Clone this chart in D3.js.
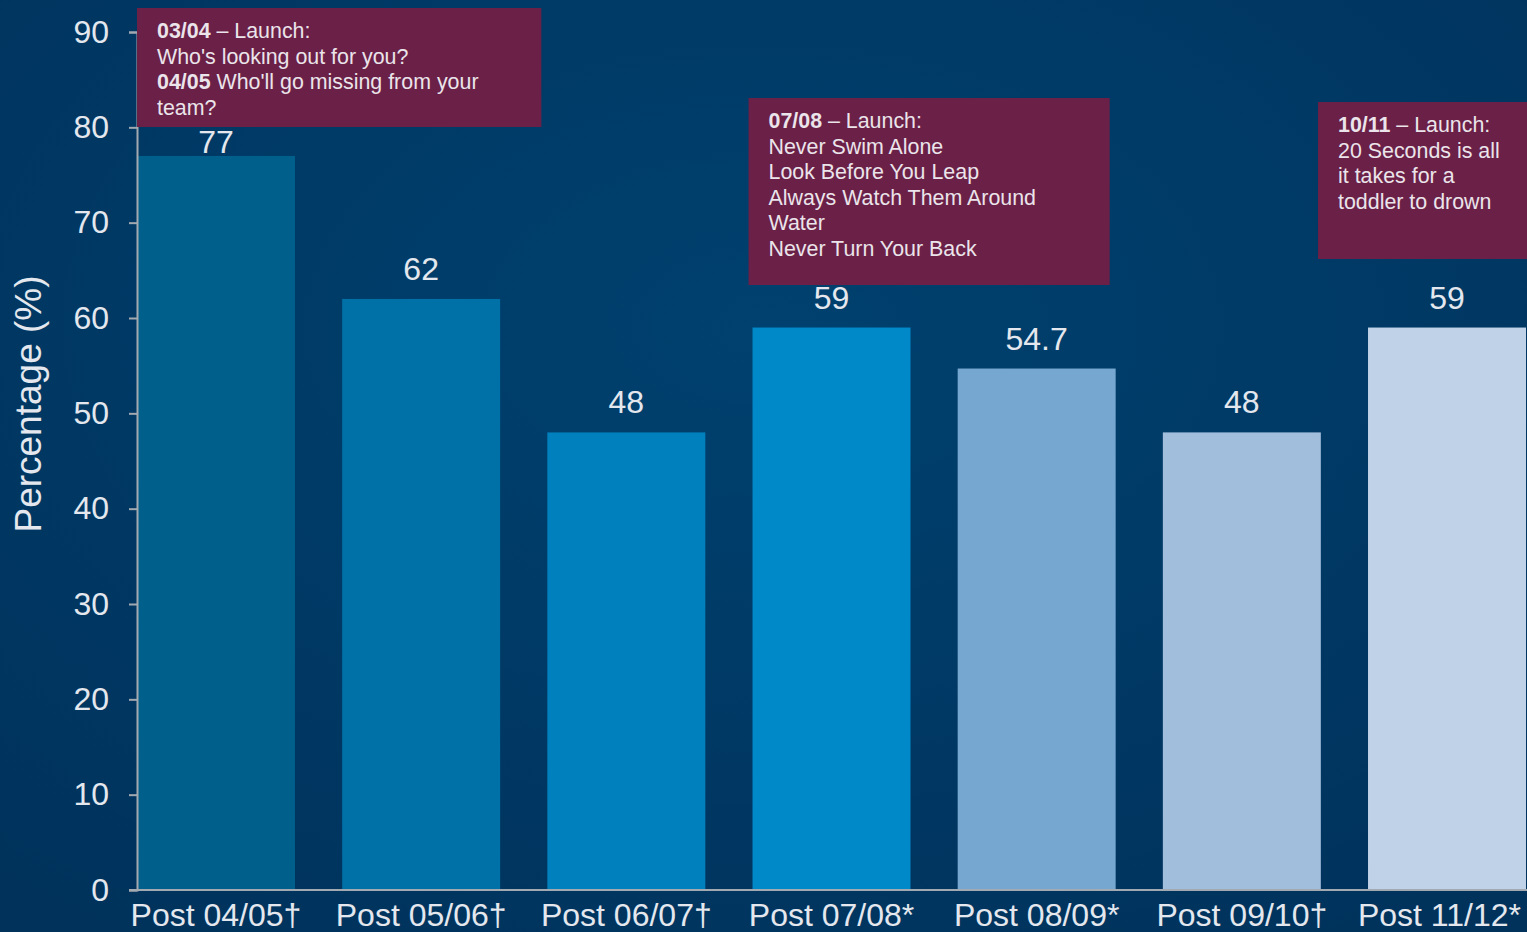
<!DOCTYPE html>
<html>
<head>
<meta charset="utf-8">
<script src="https://cdn.jsdelivr.net/npm/d3@7"></script>
<style>
  html, body { margin: 0; padding: 0; background: #00375f; overflow: hidden; }
  svg { display: block; font-family: 'Liberation Sans', Arial, sans-serif; }
</style>
</head>
<body>
<svg></svg>
<script>
let categories = ['Post 04/05\u2020', 'Post 05/06\u2020', 'Post 06/07\u2020', 'Post 07/08*', 'Post 08/09*', 'Post 09/10\u2020', 'Post 11/12*']
let values = [77, 62, 48, 59, 54.7, 48, 59]
let barColors = ['#015f8c', '#0071a7', '#0080bc', '#0089c9', '#76a7d1', '#a2bedd', '#bfd2e8']
let yTicks = [0, 10, 20, 30, 40, 50, 60, 70, 80, 90]

// launch notes: [bold part, rest of line]
let notes1 = [['03/04', ' \u2013 Launch:'], ['', "Who's looking out for you?"], ['04/05', " Who'll go missing from your"], ['', 'team?']]
let notes2 = [['07/08', ' \u2013 Launch:'], ['', 'Never Swim Alone'], ['', 'Look Before You Leap'], ['', 'Always Watch Them Around'], ['', 'Water'], ['', 'Never Turn Your Back']]
let notes3 = [['10/11', ' \u2013 Launch:'], ['', '20 Seconds is all'], ['', 'it takes for a'], ['', 'toddler to drown']]

let width = 1527
let height = 932

let svg = d3.select('svg')
            .attr('width', width)
            .attr('height', height)

let defs = svg.append('defs')
let grad = defs.append('radialGradient')
               .attr('id', 'bg')
               .attr('cx', '50%').attr('cy', '35%').attr('r', '80%')
grad.append('stop').attr('offset', '0%').attr('stop-color', '#00416f')
grad.append('stop').attr('offset', '100%').attr('stop-color', '#00325b')

svg.append('rect')
   .attr('width', width)
   .attr('height', height)
   .attr('fill', 'url(#bg)')

let xScale = d3.scaleBand()
               .domain(categories)
               .range([137, 1526])
               .paddingInner(0.23)
               .paddingOuter(0)

let yScale = d3.scaleLinear()
               .domain([0, 90])
               .range([890, 32])

let box1Bottom = 127

// bars
svg.selectAll('.bar')
   .data(values)
   .enter()
   .append('rect')
   .attr('class', 'bar')
   .attr('x', (d, i) => xScale(categories[i]))
   .attr('y', (d) => yScale(d))
   .attr('width', xScale.bandwidth())
   .attr('height', (d) => yScale(0) - yScale(d))
   .attr('fill', (d, i) => barColors[i])

// value labels (pushed below the first note box when they would hit it)
svg.selectAll('.val')
   .data(values)
   .enter()
   .append('text')
   .attr('class', 'val')
   .attr('x', (d, i) => xScale(categories[i]) + xScale.bandwidth() / 2)
   .attr('y', (d) => Math.max(yScale(d) - 19, box1Bottom + 26))
   .attr('text-anchor', 'middle')
   .attr('font-size', 32)
   .attr('fill', '#e4e8ee')
   .text((d) => d)

// axes
let yAxis = d3.axisLeft(yScale)
              .tickValues(yTicks)
              .tickSize(8)
              .tickPadding(20)

let gy = svg.append('g')
            .attr('transform', 'translate(137, 0)')
            .call(yAxis)
gy.select('.domain').attr('stroke', '#a3a9b0').attr('stroke-width', 2)
gy.selectAll('.tick line').attr('stroke', '#a3a9b0').attr('stroke-width', 2)
gy.selectAll('.tick text')
  .attr('font-size', 32)
  .attr('fill', '#e4e8ee')
  .attr('font-family', "'Liberation Sans', Arial, sans-serif")

let xAxis = d3.axisBottom(xScale)
              .tickSize(0)
              .tickPadding(13)

let gx = svg.append('g')
            .attr('transform', 'translate(0, 890)')
            .call(xAxis)
gx.select('.domain').attr('stroke', '#a3a9b0').attr('stroke-width', 2)
   .attr('d', 'M129,0H1527')
gx.selectAll('.tick text')
  .attr('font-size', 32)
  .attr('fill', '#e4e8ee')
  .attr('font-family', "'Liberation Sans', Arial, sans-serif")

// keep the last category label inside the page
gx.selectAll('.tick').each(function (d) {
    let txt = d3.select(this).select('text')
    let w = txt.node().getComputedTextLength()
    let cx = xScale(d) + xScale.bandwidth() / 2
    let overflow = cx + w / 2 - (width - 6)
    if (overflow > 0) txt.attr('x', -overflow)
})

// y title
svg.append('text')
   .attr('transform', 'translate(41, 404) rotate(-90)')
   .attr('text-anchor', 'middle')
   .attr('font-size', 37)
   .attr('fill', '#e4e8ee')
   .text('Percentage (%)')

// launch note boxes
let drawNote = (lines, x0, x1, y0, y1) => {
    svg.append('rect')
       .attr('x', x0)
       .attr('y', y0)
       .attr('width', x1 - x0)
       .attr('height', y1 - y0)
       .attr('fill', '#6a2047')
    let t = svg.append('text')
               .attr('font-size', 21.4)
               .attr('fill', '#ebe4ea')
    lines.forEach((ln, i) => {
        let ts = t.append('tspan')
                  .attr('x', x0 + 20)
                  .attr('y', y0 + 30 + i * 25.5)
        if (ln[0] != '') {
            ts.append('tspan').attr('font-weight', 'bold').text(ln[0])
            t.append('tspan').text(ln[1])
        } else {
            ts.text(ln[1])
        }
    })
}

drawNote(notes1, xScale(categories[0]), xScale(categories[2]) - 6, 8, box1Bottom)
drawNote(notes2, xScale(categories[3]) - 4, xScale(categories[4]) + 152, 98, 285)
drawNote(notes3, xScale(categories[6]) - 50, 1527, 102, 259)
</script>
</body>
</html>
